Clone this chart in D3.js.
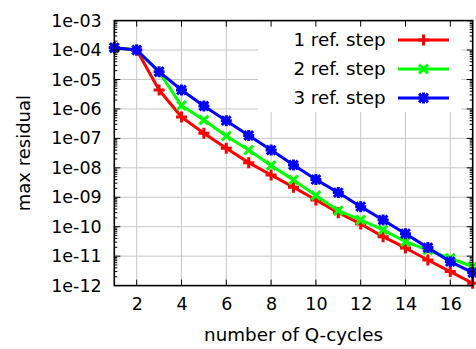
<!DOCTYPE html>
<html>
<head>
<meta charset="utf-8">
<script src="https://cdn.jsdelivr.net/npm/d3@7"></script>
<style>
  html, body { margin: 0; padding: 0; background: #fff; }
  svg { display: block; font-family: "DejaVu Sans", sans-serif; }
</style>
</head>
<body>
<svg id="chart" width="476" height="349"></svg>
<script>
// Multigrid convergence: max residual after each Q-cycle
const cycles = [1, 2, 3, 4, 5, 6, 7, 8, 9, 10, 11, 12, 13, 14, 15, 16, 17];
const oneRefStep = [1.2e-4, 1.0e-4, 4.4e-6, 5.3e-7, 1.5e-7, 4.6e-8, 1.5e-8, 5.7e-9, 2.2e-9, 8.1e-10, 3.0e-10, 1.24e-10, 4.6e-11, 1.9e-11, 7.4e-12, 3.0e-12, 1.2e-12];
const twoRefSteps = [1.2e-4, 1.0e-4, 1.8e-5, 1.3e-6, 4.2e-7, 1.2e-7, 4.0e-8, 1.2e-8, 3.9e-9, 1.15e-9, 3.5e-10, 1.7e-10, 7.8e-11, 3.1e-11, 1.6e-11, 8.5e-12, 4.4e-12];
const threeRefSteps = [1.2e-4, 1.0e-4, 1.84e-5, 4.4e-6, 1.26e-6, 4.0e-7, 1.25e-7, 4.0e-8, 1.25e-8, 4.0e-9, 1.44e-9, 4.8e-10, 1.7e-10, 5.8e-11, 1.95e-11, 6.5e-12, 2.75e-12];

const seriesNames = ["1 ref. step", "2 ref. step", "3 ref. step"];
const xTicks = [2, 4, 6, 8, 10, 12, 14, 16];
const yTicks = [1e-3, 1e-4, 1e-5, 1e-6, 1e-7, 1e-8, 1e-9, 1e-10, 1e-11, 1e-12];
const xLabel = "number of Q-cycles";
const yLabel = "max residual";

const series = [
  { name: seriesNames[0], values: oneRefStep, color: "#ff0000", marker: "plus" },
  { name: seriesNames[1], values: twoRefSteps, color: "#00ff00", marker: "cross" },
  { name: seriesNames[2], values: threeRefSteps, color: "#0000ff", marker: "star" }
];

const svg = d3.select("#chart");
const plot = { left: 114.3, right: 472.7, top: 20.6, bottom: 285.6 };

const x = d3.scaleLinear().domain([1, 17]).range([plot.left, plot.right]);
const y = d3.scaleLog().domain([1e-12, 1e-3]).range([plot.bottom, plot.top]);

const gridColor = "#c8c8c8";
const legendBox = { x0: 258, x1: 461, y0: plot.top, y1: 112 };

// grid
const grid = svg.append("g");
grid.selectAll("line.gx").data(xTicks).join("line")
  .attr("x1", d => x(d)).attr("x2", d => x(d))
  .attr("y1", plot.top).attr("y2", plot.bottom)
  .attr("stroke", gridColor).attr("stroke-width", 1);
grid.selectAll("line.gy").data(yTicks).join("line")
  .attr("x1", plot.left).attr("x2", plot.right)
  .attr("y1", d => y(d)).attr("y2", d => y(d))
  .attr("stroke", gridColor).attr("stroke-width", 1);

// opaque key background
svg.append("rect")
  .attr("x", legendBox.x0).attr("y", legendBox.y0)
  .attr("width", legendBox.x1 - legendBox.x0).attr("height", legendBox.y1 - legendBox.y0)
  .attr("fill", "#fff");

// marker shapes
function markerPath(type, r) {
  const p = d3.path();
  if (type === "plus" || type === "star") {
    p.moveTo(-r, 0); p.lineTo(r, 0);
    p.moveTo(0, -r); p.lineTo(0, r);
  }
  if (type === "cross" || type === "star") {
    const q = r * 0.8;
    p.moveTo(-q, -q); p.lineTo(q, q);
    p.moveTo(-q, q); p.lineTo(q, -q);
  }
  return p.toString();
}

const line = d3.line().x((d, i) => x(cycles[i])).y(d => y(d));

const gSeries = svg.append("g");
series.forEach(s => {
  gSeries.append("path")
    .attr("d", line(s.values))
    .attr("fill", "none")
    .attr("stroke", s.color)
    .attr("stroke-width", 3)
    .attr("stroke-linejoin", "round");
  gSeries.append("g").selectAll("path").data(s.values).join("path")
    .attr("transform", (d, i) => `translate(${x(cycles[i])},${y(d)})`)
    .attr("d", markerPath(s.marker, 5.5))
    .attr("fill", "none")
    .attr("stroke", s.color)
    .attr("stroke-width", 3);
});

// frame and ticks
const axes = svg.append("g");
const majorLen = 6, minorLen = 3;
const xAxisBottom = d3.axisBottom(x).tickValues(xTicks).tickSize(0).tickPadding(12);
axes.append("g").attr("transform", `translate(0,${plot.bottom})`).call(xAxisBottom)
  .call(g => g.select(".domain").remove())
  .call(g => g.selectAll("text").attr("font-size", 17.5).attr("font-family", "DejaVu Sans").attr("fill", "#000"));

const yAxisLeft = d3.axisLeft(y).tickValues(yTicks).tickSize(0).tickPadding(12.6)
  .tickFormat(d => {
    const e = Math.round(Math.log10(d));
    return "1e-" + String(-e).padStart(2, "0");
  });
axes.append("g").attr("transform", `translate(${plot.left},0)`).call(yAxisLeft)
  .call(g => g.select(".domain").remove())
  .call(g => g.selectAll("text").attr("font-size", 17.5).attr("font-family", "DejaVu Sans").attr("fill", "#000"));

// inward tick marks on all four sides
const minorY = [];
for (let e = -12; e < -3; e++) for (let m = 2; m <= 9; m++) minorY.push(m * Math.pow(10, e));
const tickG = axes.append("g").attr("stroke", "#000").attr("stroke-width", 1);
xTicks.forEach(t => {
  tickG.append("line").attr("x1", x(t)).attr("x2", x(t)).attr("y1", plot.bottom).attr("y2", plot.bottom - majorLen);
  tickG.append("line").attr("x1", x(t)).attr("x2", x(t)).attr("y1", plot.top).attr("y2", plot.top + majorLen);
});
yTicks.forEach(t => {
  tickG.append("line").attr("x1", plot.left).attr("x2", plot.left + majorLen).attr("y1", y(t)).attr("y2", y(t));
  tickG.append("line").attr("x1", plot.right).attr("x2", plot.right - majorLen).attr("y1", y(t)).attr("y2", y(t));
});
minorY.forEach(t => {
  tickG.append("line").attr("x1", plot.left).attr("x2", plot.left + minorLen).attr("y1", y(t)).attr("y2", y(t));
  tickG.append("line").attr("x1", plot.right).attr("x2", plot.right - minorLen).attr("y1", y(t)).attr("y2", y(t));
});

axes.append("rect")
  .attr("x", plot.left).attr("y", plot.top)
  .attr("width", plot.right - plot.left).attr("height", plot.bottom - plot.top)
  .attr("fill", "none").attr("stroke", "#000").attr("stroke-width", 1.6);

// axis titles
svg.append("text")
  .attr("x", (plot.left + plot.right) / 2).attr("y", 340.5)
  .attr("text-anchor", "middle").attr("font-size", 18.3)
  .text(xLabel);
svg.append("text")
  .attr("transform", `translate(29.5,${(plot.top + plot.bottom) / 2}) rotate(-90)`)
  .attr("text-anchor", "middle").attr("font-size", 18)
  .text(yLabel);

// key
const legend = svg.append("g");
series.forEach((s, i) => {
  const ly = 40 + i * 29;
  legend.append("text")
    .attr("x", 385.5).attr("y", ly).attr("dy", "0.35em")
    .attr("text-anchor", "end").attr("font-size", 18.3)
    .text(s.name);
  legend.append("line")
    .attr("x1", 398).attr("x2", 449).attr("y1", ly).attr("y2", ly)
    .attr("stroke", s.color).attr("stroke-width", 3);
  legend.append("path")
    .attr("transform", `translate(423.5,${ly})`)
    .attr("d", markerPath(s.marker, 5.5))
    .attr("fill", "none").attr("stroke", s.color).attr("stroke-width", 3);
});
</script>
</body>
</html>
